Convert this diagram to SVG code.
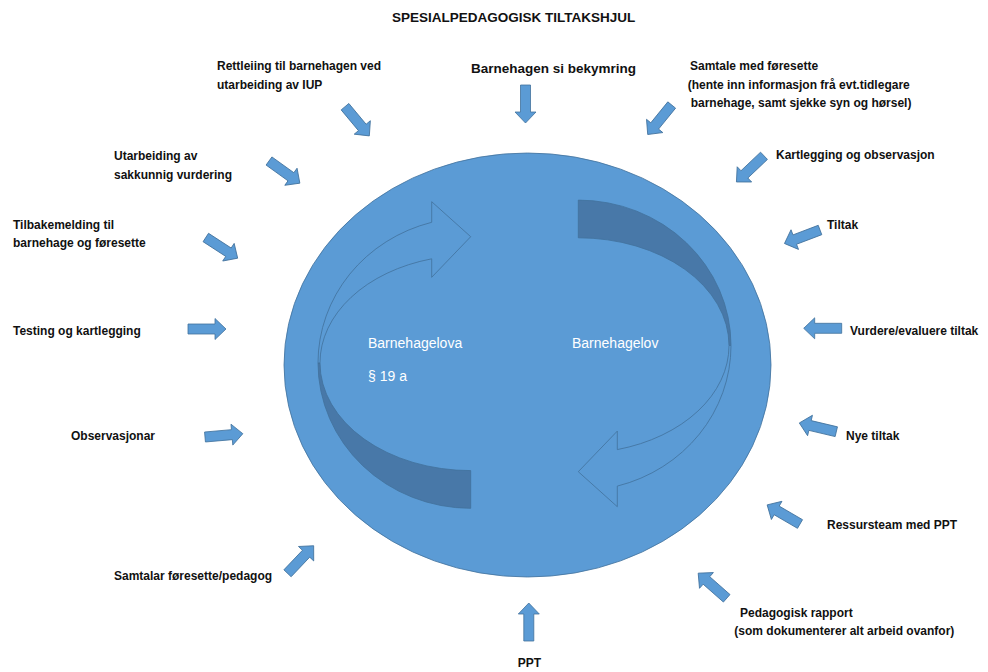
<svg xmlns="http://www.w3.org/2000/svg" xmlns:xlink="http://www.w3.org/1999/xlink" width="988" height="672" viewBox="0 0 988 672">
<style>
.lbl{font-family:"Liberation Sans",Arial,sans-serif;font-weight:bold;font-size:12px;fill:#111}
.title{font-family:"Liberation Sans",Arial,sans-serif;font-weight:bold;font-size:13.5px;fill:#111}
.inner{font-family:"Liberation Sans",Arial,sans-serif;font-size:14px;fill:#ffffff}
.blue{fill:#5B9BD5;stroke:#41719C;stroke-width:0.8}
.dark{fill:#47799F;fill:#4878A8;stroke:#41719C;stroke-width:0.8}
</style>
<defs>
<path id="ba" class="blue" d="M0,-5 H27 V-10.5 L38,0 L27,10.5 V5 H0 Z"/>
<g id="curv">
<path class="dark" d="M318,362.9 A152.7,145.4 0 0 0 470.7,508.3 L470.7,470.6 A150.7,107.7 0 0 1 320,362.9 Z"/>
<path class="blue" d="M318,362.9 A152.7,145.4 0 0 1 431.7,222.3 L431.7,201.7 L470.7,236.7 L431.7,277.3 L431.7,258.8 A150.7,107.7 0 0 0 320,362.9 Z"/>
</g>
</defs>
<rect width="988" height="672" fill="#ffffff"/>
<text class="title" x="392" y="21.5">SPESIALPEDAGOGISK TILTAKSHJUL</text>
<g id="wheel">
<ellipse class="blue" cx="527.5" cy="365" rx="243.5" ry="212"/>
<use href="#curv"/>
<use href="#curv" transform="rotate(180 524.5 354.2)"/>
<text class="inner" x="368" y="348">Barnehagelova</text>
<text class="inner" x="368" y="381">§ 19 a</text>
<text class="inner" x="572" y="348">Barnehagelov</text>
</g>
<g id="connectors">
<use href="#ba" transform="translate(525.5,85) rotate(90)"/>
<use href="#ba" transform="translate(528.8,641) rotate(-90)"/>
<use href="#ba" transform="translate(188,329)"/>
<use href="#ba" transform="translate(205,437) rotate(-5)"/>
<use href="#ba" transform="translate(345,106.7) rotate(50.2)"/>
<use href="#ba" transform="translate(269,161) rotate(35.7)"/>
<use href="#ba" transform="translate(205.8,237.5) rotate(33)"/>
<use href="#ba" transform="translate(287.5,573.3) rotate(-46.5)"/>
<use href="#ba" transform="translate(726.7,598.3) rotate(-138.6)"/>
<use href="#ba" transform="translate(800,524) rotate(-149.8)"/>
<use href="#ba" transform="translate(836.3,431.7) rotate(-166.7)"/>
<use href="#ba" transform="translate(841.7,328.3) rotate(180)"/>
<use href="#ba" transform="translate(820,230) rotate(159.2)"/>
<use href="#ba" transform="translate(764,155.8) rotate(136.5)"/>
<use href="#ba" transform="translate(671.7,105) rotate(129.1)"/>
</g>
<g id="n-bekymring"><text class="title" x="471" y="73">Barnehagen si bekymring</text></g>
<g id="n-samtale"><text class="lbl" x="690" y="70.3">Samtale med føresette</text><text class="lbl" x="687.7" y="88.7">(hente inn informasjon frå evt.tidlegare</text><text class="lbl" x="690.7" y="107">barnehage, samt sjekke syn og hørsel)</text></g>
<g id="n-kartlegging"><text class="lbl" x="776" y="159.3">Kartlegging og observasjon</text></g>
<g id="n-tiltak"><text class="lbl" x="827" y="228.7">Tiltak</text></g>
<g id="n-vurdere"><text class="lbl" x="850" y="335.3">Vurdere/evaluere tiltak</text></g>
<g id="n-nye"><text class="lbl" x="846" y="440.3">Nye tiltak</text></g>
<g id="n-ressursteam"><text class="lbl" x="827" y="528.7">Ressursteam med PPT</text></g>
<g id="n-rapport"><text class="lbl" x="740" y="617">Pedagogisk rapport</text><text class="lbl" x="734.3" y="635">(som dokumenterer alt arbeid ovanfor)</text></g>
<g id="n-ppt"><text class="lbl" x="517.7" y="667">PPT</text></g>
<g id="n-samtalar"><text class="lbl" x="114" y="580.3">Samtalar føresette/pedagog</text></g>
<g id="n-observasjonar"><text class="lbl" x="71" y="440.3">Observasjonar</text></g>
<g id="n-testing"><text class="lbl" x="13" y="335.3">Testing og kartlegging</text></g>
<g id="n-tilbakemelding"><text class="lbl" x="13" y="228.7">Tilbakemelding til</text><text class="lbl" x="13" y="247">barnehage og føresette</text></g>
<g id="n-utarbeiding"><text class="lbl" x="114" y="160.3">Utarbeiding av</text><text class="lbl" x="114" y="178.5">sakkunnig vurdering</text></g>
<g id="n-rettleiing"><text class="lbl" x="217" y="70.3">Rettleiing til barnehagen ved</text><text class="lbl" x="217" y="88.7">utarbeiding av IUP</text></g>
</svg>
